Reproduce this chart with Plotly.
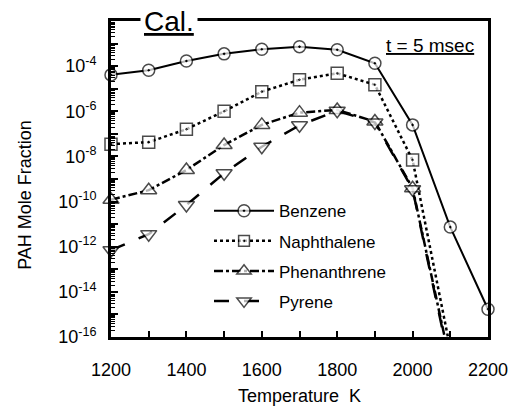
import plotly.graph_objects as go

# Temperature grid (K)
temperature = [1200, 1300, 1400, 1500, 1600, 1700, 1800, 1900, 2000, 2100, 2200]

# PAH mole fractions at t = 5 msec
benzene = [4.1e-5, 6.6e-5, 1.7e-4, 3.5e-4, 5.6e-4, 7.3e-4, 5.3e-4, 1.35e-4, 2.5e-7, 7.4e-12, 1.7e-15]
naphthalene = [3.5e-8, 4.3e-8, 1.6e-7, 1.0e-6, 7.4e-6, 2.5e-5, 4.8e-5, 1.5e-5, 6.9e-9, 3.0e-17]
phenanthrene = [1.2e-10, 3.2e-10, 2.5e-9, 3.2e-8, 2.5e-7, 8.7e-7, 1.15e-6, 3.5e-7, 3.9e-10, 7.0e-18]
pyrene = [7.0e-13, 3.6e-12, 7.0e-11, 1.8e-9, 2.7e-8, 2.4e-7, 1.05e-6, 3.2e-7, 3.5e-10, 5.0e-18]

x_tick_vals = [1200, 1400, 1600, 1800, 2000, 2200]
y_exponents = list(range(-16, -2))
y_floor = 1e-16

FONT = "Liberation Sans, Arial, sans-serif"

series = [
    ("Benzene", benzene, "solid", "circle-dot", 12, 2),
    ("Naphthalene", naphthalene, "dot", "square-dot", 12, 2.5),
    ("Phenanthrene", phenanthrene, "dashdot", "triangle-up", 14, 2.5),
    ("Pyrene", pyrene, "longdash", "triangle-down", 14, 2.5),
]

fig = go.Figure()
for name, values, dash, symbol, msize, lw in series:
    # markers below the axis floor are hidden; the line still runs off the bottom
    sizes = [msize if v >= y_floor else 0 for v in values]
    fig.add_trace(go.Scatter(
        x=temperature[:len(values)], y=values, name=name, legendgroup=name,
        mode="lines+markers", cliponaxis=False,
        line=dict(color="black", width=lw, dash=dash),
        marker=dict(symbol=symbol, size=sizes, color="white",
                    line=dict(color="black", width=1.5)),
    ))

y_tick_vals = [10.0 ** e for e in y_exponents]
y_tick_text = [f"10<sup>{e}</sup>" if e % 2 == 0 else "" for e in y_exponents]
y_minor = [m * 10.0 ** e for e in y_exponents for m in range(2, 10)]

fig.update_xaxes(
    range=[1200, 2200], tickvals=x_tick_vals, ticks="inside", ticklen=6,
    tickwidth=1.5, tickcolor="black", automargin=False,
    minor=dict(dtick=100, tick0=1200, ticks="inside", ticklen=6, tickwidth=1.5, tickcolor="black"),
    showline=True, linecolor="black", linewidth=3, mirror=True,
    showgrid=False, zeroline=False, ticklabelstandoff=14,
    tickfont=dict(family=FONT, size=18, color="black"),
    title=dict(text="Temperature  K", font=dict(family=FONT, size=18, color="black"), standoff=12),
)
fig.update_yaxes(
    type="log", range=[-16, -2], tickvals=y_tick_vals, ticktext=y_tick_text,
    ticks="inside", ticklen=7, tickwidth=1.5, tickcolor="black", automargin=False,
    minor=dict(tickvals=y_minor, ticks="inside", ticklen=4, tickwidth=1, tickcolor="black"),
    showline=True, linecolor="black", linewidth=3, mirror=True,
    showgrid=False, zeroline=False, ticklabelstandoff=8,
    tickfont=dict(family=FONT, size=18, color="black"),
)

fig.add_annotation(
    text="PAH Mole Fraction", textangle=-90, xref="paper", yref="paper",
    x=-0.228, y=0.45, xanchor="center", yanchor="middle", showarrow=False,
    font=dict(family=FONT, size=18, color="black"),
)
fig.add_annotation(
    text="<u>Cal.</u>", xref="paper", yref="paper", x=0.153, y=1.0,
    xanchor="center", yanchor="middle", showarrow=False, bgcolor="white",
    borderpad=3, font=dict(family=FONT, size=28, color="black"),
)
fig.add_annotation(
    text="<u>t = 5 msec</u>", xref="paper", yref="paper", x=0.968, y=0.924,
    xanchor="right", yanchor="middle", showarrow=False,
    font=dict(family=FONT, size=19, color="black"),
)

fig.update_layout(
    width=509, height=406, margin=dict(l=111, r=21, t=21, b=69),
    paper_bgcolor="white", plot_bgcolor="white", showlegend=True,
    legend=dict(x=0.26, y=0.455, xanchor="left", yanchor="top",
                bgcolor="rgba(0,0,0,0)", tracegroupgap=5, itemwidth=60,
                font=dict(family=FONT, size=17, color="black")),
)

fig.write_html("out.html")
